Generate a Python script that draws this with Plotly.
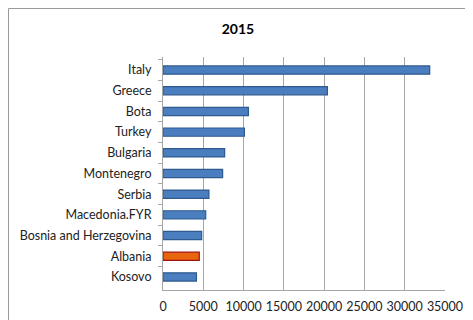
import plotly.graph_objects as go

countries = ["Italy", "Greece", "Bota", "Turkey", "Bulgaria", "Montenegro",
             "Serbia", "Macedonia.FYR", "Bosnia and Herzegovina", "Albania", "Kosovo"]
values = [33100, 20400, 10600, 10100, 7650, 7400, 5700, 5300, 4800, 4500, 4150]
highlight = "Albania"
x_ticks = [0, 5000, 10000, 15000, 20000, 25000, 30000, 35000]

fill = ["#E8640E" if c == highlight else "#4A7EBF" for c in countries]
edge = ["#A01010" if c == highlight else "#2F5A8F" for c in countries]

L, R, T, B = 155, 36, 49, 38
PW, PH = 473 - L - R, 320 - T - B

fig = go.Figure(go.Bar(
    x=values, y=countries, orientation="h", width=0.4,
    marker=dict(color=fill, line=dict(color=edge, width=1.2)),
))

fig.update_layout(
    width=473, height=320,
    paper_bgcolor="white", plot_bgcolor="white",
    margin=dict(l=L, r=R, t=T, b=B, autoexpand=False),
    showlegend=False,
    font=dict(family="Lato, Open Sans, sans-serif", size=12, color="#222"),
    title=dict(text="<b>2015</b>", x=230 / 473, xanchor="center",
               y=1 - 21 / 320, yanchor="middle",
               font=dict(size=14, color="#000")),
)
fig.update_xaxes(
    range=[0, 35000], tickvals=x_ticks, ticktext=[str(v) for v in x_ticks],
    showgrid=True, gridcolor="#A6A6A6", gridwidth=1,
    showline=True, linecolor="#A6A6A6", zeroline=False,
    tickfont=dict(size=12.5), ticks="", ticklabelstandoff=5, automargin=False,
)
fig.update_yaxes(
    categoryorder="array", categoryarray=countries, range=[10.63, -0.63],
    showline=True, linecolor="#A6A6A6", showgrid=False,
    ticks="outside", tickson="boundaries", ticklen=4, tickcolor="#A6A6A6",
    tickfont=dict(size=12.5), ticklabelstandoff=8, automargin=False,
)
# chart area border (extends past the visible window on right and bottom)
fig.add_shape(type="rect", xref="paper", yref="paper",
              x0=(0.5 - L) / PW, x1=1.5, y0=-0.5, y1=1 + (T - 0.5) / PH,
              line=dict(color="#9A9A9A", width=1), fillcolor="rgba(0,0,0,0)", layer="below")

fig.write_html("out.html")
